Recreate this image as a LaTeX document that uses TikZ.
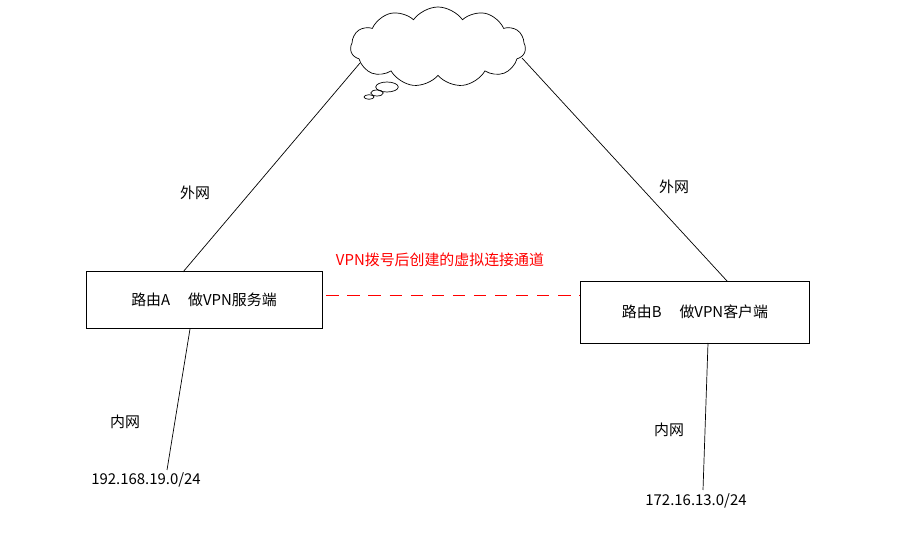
\documentclass[tikz,border=0pt]{standalone}
\usepackage{fontspec}
\setmainfont{Noto Sans CJK SC}
\usetikzlibrary{shapes.symbols,shapes.geometric,positioning}
\tikzstyle{router} = [rectangle, draw, thin, font=\fontsize{8.5}{10}\selectfont]
\tikzstyle{lbl} = [font=\fontsize{8.5}{10}\selectfont]
\tikzstyle{link} = [draw, thin]
\begin{document}
\begin{tikzpicture}[x=0.02cm, y=-0.02cm]
\useasboundingbox (0,0) rectangle (899,553);

\node (net) [cloud, draw, cloud puffs=11, cloud puff arc=110, aspect=2.2, minimum width=3.5cm, minimum height=1.6cm] at (438,47) {};
\node (b1) [ellipse, draw, minimum width=0.45cm, minimum height=0.2cm, inner sep=0pt] at (387,87) {};
\node (b2) [ellipse, draw, minimum width=0.25cm, minimum height=0.12cm, inner sep=0pt] at (377,93) {};
\node (b3) [ellipse, draw, minimum width=0.2cm, minimum height=0.09cm, inner sep=0pt] at (369,97) {};

\node (ra) [router, minimum width=4.72cm, minimum height=1.14cm] at (204,300) {路由A\hspace{1.2em}做VPN服务端};
\node (rb) [router, minimum width=4.58cm, minimum height=1.24cm] at (695,312) {路由B\hspace{1.2em}做VPN客户端};

\coordinate (lanA) at (167,470);
\coordinate (lanB) at (703,490);

\draw [link] (183,272) -- (360,63);
\draw [link] (522,58) -- (727,281);
\draw [link] (190,329) -- (lanA);
\draw [link] (708,343) -- (lanB);
\draw [red, thin, dash pattern=on 7pt off 5pt] (ra.east) ++(4,-5) coordinate (dA) -- (dA -| rb.west);

\node (wa) [lbl] at (195,193) {外网};
\node (wb) [lbl] at (674,187) {外网};
\node (vpn) [lbl, text=red] at (440,260) {VPN拨号后创建的虚拟连接通道};
\node (na) [lbl] at (125,422) {内网};
\node (nb) [lbl] at (669,430) {内网};
\node (ipa) [lbl] at (146,480) {192.168.19.0/24};
\node (ipb) [lbl] at (696,501) {172.16.13.0/24};
\end{tikzpicture}
\end{document}
